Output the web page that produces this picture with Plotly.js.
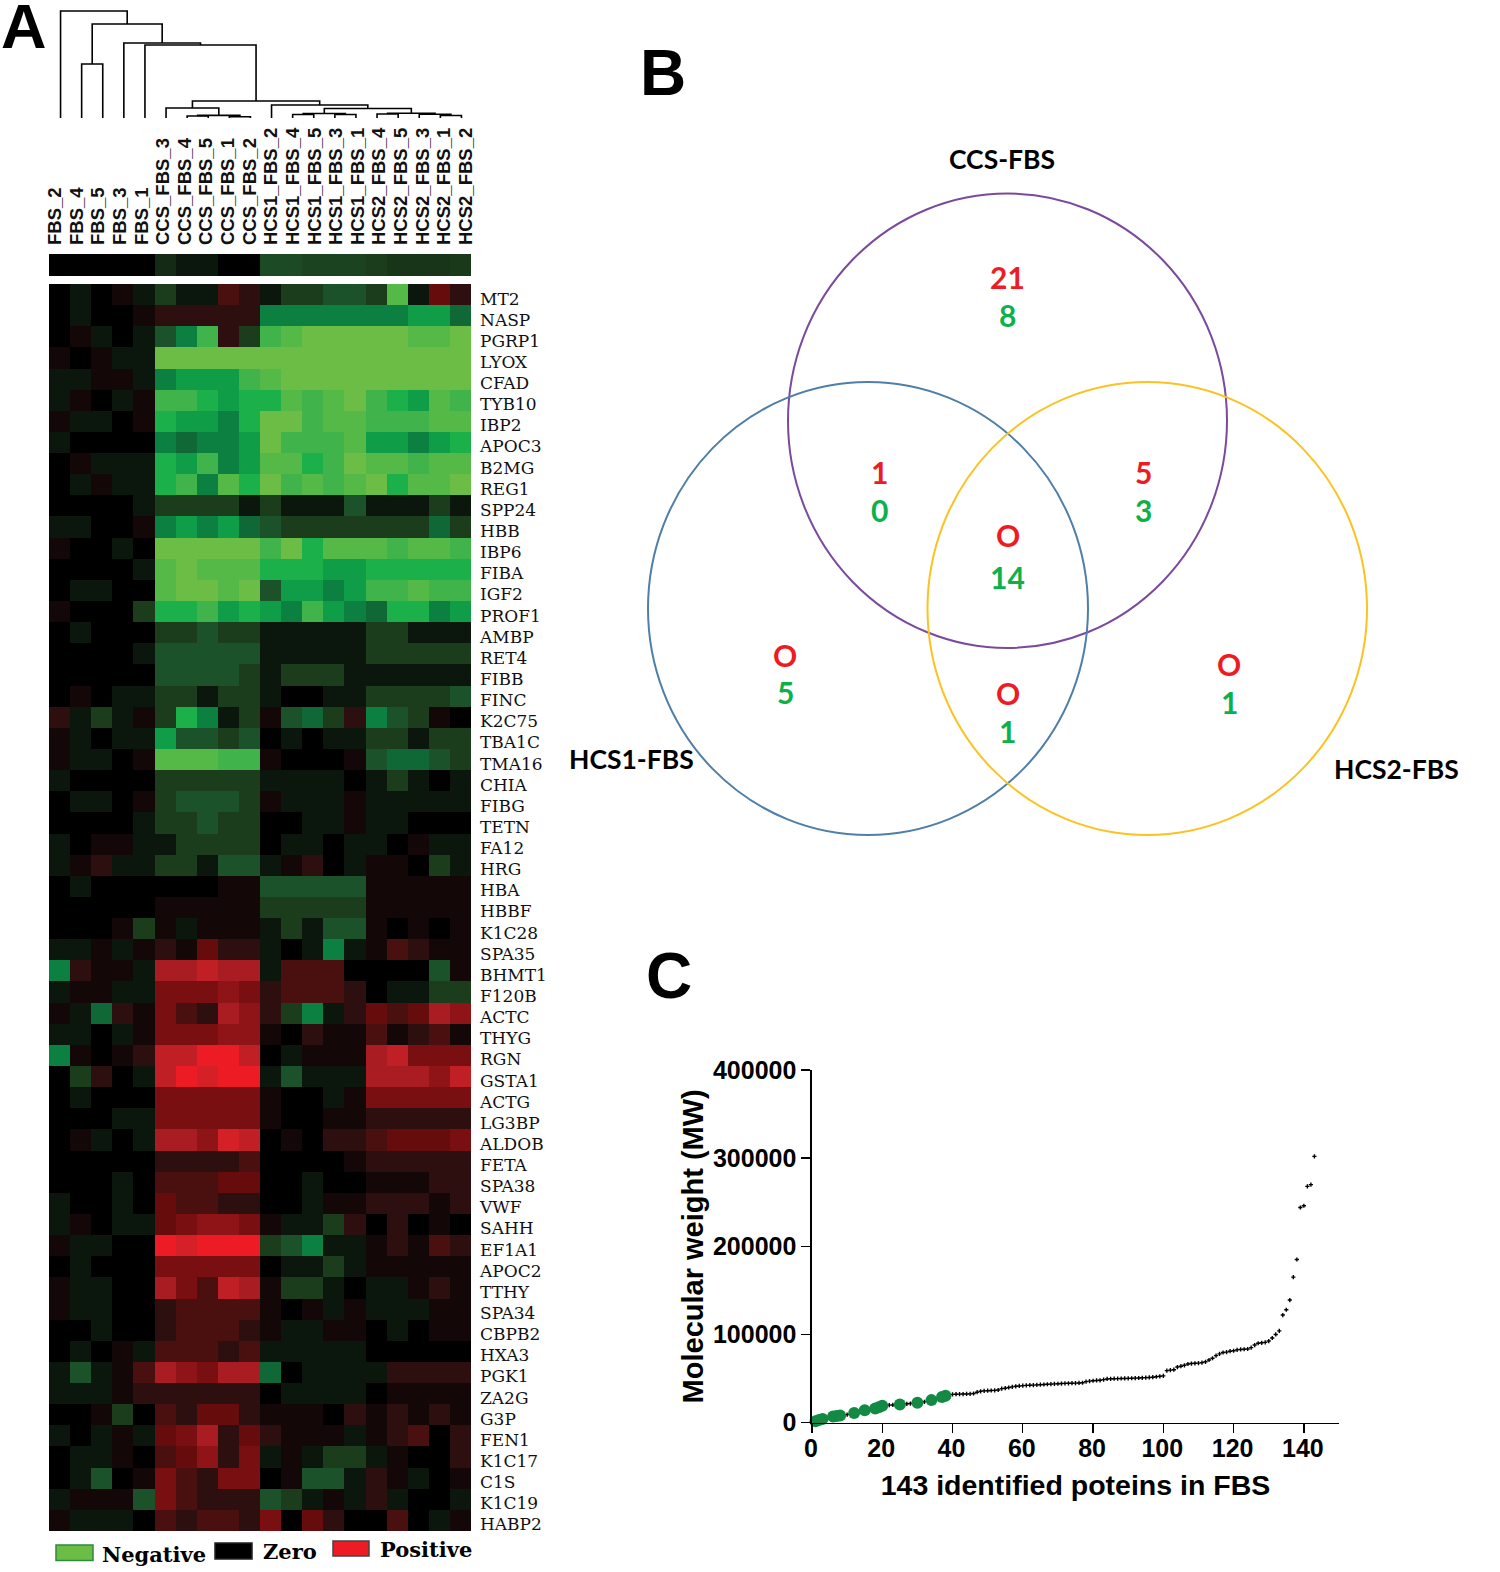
<!DOCTYPE html>
<html><head><meta charset="utf-8">
<script src="https://cdn.plot.ly/plotly-3.0.1.min.js"></script>
<style>html,body{margin:0;padding:0;background:#fff}#c{width:1500px;height:1572px}</style>
</head><body><div id="c"></div>
<script>
const colLabels=["FBS_2","FBS_4","FBS_5","FBS_3","FBS_1","CCS_FBS_3","CCS_FBS_4","CCS_FBS_5","CCS_FBS_1","CCS_FBS_2","HCS1_FBS_2","HCS1_FBS_4","HCS1_FBS_5","HCS1_FBS_3","HCS1_FBS_1","HCS2_FBS_4","HCS2_FBS_5","HCS2_FBS_3","HCS2_FBS_1","HCS2_FBS_2"];
const rowLabels=["MT2","NASP","PGRP1","LYOX","CFAD","TYB10","IBP2","APOC3","B2MG","REG1","SPP24","HBB","IBP6","FIBA","IGF2","PROF1","AMBP","RET4","FIBB","FINC","K2C75","TBA1C","TMA16","CHIA","FIBG","TETN","FA12","HRG","HBA","HBBF","K1C28","SPA35","BHMT1","F120B","ACTC","THYG","RGN","GSTA1","ACTG","LG3BP","ALDOB","FETA","SPA38","VWF","SAHH","EF1A1","APOC2","TTHY","SPA34","CBPB2","HXA3","PGK1","ZA2G","G3P","FEN1","K1C17","C1S","K1C19","HABP2"];
const heatValues=[
[0,-1,0,1,-1,-2,-1,-1,3,2,-1,-2,-2,-3,-3,-2,-9,-1,4,2],
[0,-1,0,0,1,2,2,2,2,2,-5,-5,-5,-5,-5,-5,-5,-6,-6,-4],
[0,1,-1,0,-1,-3,-5,-8,2,-2,-8,-9,-10,-10,-10,-10,-10,-9,-9,-10],
[1,0,1,-1,-1,-10,-10,-10,-10,-10,-10,-10,-10,-10,-10,-10,-10,-10,-10,-10],
[-1,-1,1,1,-1,-5,-6,-6,-6,-8,-9,-10,-10,-10,-10,-10,-10,-10,-10,-10],
[-1,1,0,-1,1,-8,-8,-7,-6,-7,-7,-9,-8,-9,-10,-8,-7,-6,-9,-8],
[1,-1,-1,0,1,-7,-6,-6,-5,-7,-10,-10,-8,-9,-9,-8,-8,-8,-9,-9],
[-1,0,0,0,0,-5,-4,-5,-5,-6,-10,-8,-8,-8,-9,-6,-6,-5,-6,-7],
[0,1,-1,-1,-1,-7,-6,-8,-5,-6,-9,-9,-7,-8,-10,-9,-9,-8,-9,-9],
[0,-1,1,-1,-1,-7,-8,-5,-9,-7,-10,-8,-9,-8,-9,-10,-7,-9,-9,-10],
[0,0,0,0,-1,-2,-2,-2,-2,-1,-2,-1,-1,-1,-3,-1,-1,-1,-2,-1],
[-1,-1,0,0,1,-5,-6,-5,-6,-4,-3,-2,-2,-2,-2,-2,-2,-2,-4,-2],
[1,0,0,-1,0,-10,-10,-10,-10,-10,-8,-10,-7,-9,-9,-9,-8,-9,-9,-8],
[0,0,0,0,-1,-9,-10,-9,-9,-9,-7,-7,-7,-6,-6,-7,-7,-7,-7,-7],
[0,-1,-1,0,0,-9,-10,-10,-9,-10,-3,-6,-6,-5,-6,-8,-8,-9,-8,-8],
[1,0,0,0,-2,-7,-7,-8,-6,-7,-6,-5,-8,-6,-5,-4,-7,-7,-5,-6],
[0,-1,0,0,0,-2,-2,-3,-2,-2,-1,-1,-1,-1,-1,-2,-2,-1,-1,-1],
[0,0,0,0,-1,-3,-3,-3,-3,-3,-1,-1,-1,-1,-1,-2,-2,-2,-2,-2],
[0,0,0,0,0,-3,-3,-3,-3,-2,-1,-2,-2,-2,-1,-1,-1,-1,-1,-1],
[0,1,0,-1,-1,-2,-2,-1,-2,-2,-1,0,0,-1,-1,-2,-2,-2,-2,-3],
[2,-1,-2,-1,1,-2,-7,-5,-1,-2,1,-3,-4,-2,2,-5,-3,-2,1,0],
[1,-1,0,-1,-1,-6,-3,-3,-2,-3,0,-1,0,-1,-1,-2,-2,-1,-2,-2],
[1,-1,-1,0,1,-9,-9,-9,-8,-8,1,0,0,0,1,-3,-4,-4,-3,-2],
[-1,0,0,0,0,-2,-2,-2,-2,-2,-1,-1,-1,-1,0,-1,-2,-1,0,-1],
[0,-1,-1,0,1,-2,-3,-3,-3,-2,1,-1,-1,-1,1,-1,-1,-1,-1,-1],
[0,0,0,0,-1,-2,-2,-3,-2,-2,0,0,-1,-1,1,-1,-1,0,0,0],
[-1,0,1,1,-1,-1,-2,-2,-2,-2,0,-1,-1,0,-1,-1,0,1,-1,-1],
[-1,1,2,-1,-1,-2,-2,-1,-3,-3,-1,1,2,0,-1,1,1,0,-2,-1],
[0,-1,0,0,0,0,0,0,1,1,-3,-3,-3,-3,-3,1,1,1,1,1],
[0,0,0,0,0,1,1,1,1,1,-2,-2,-2,-2,-2,1,1,1,1,1],
[0,0,0,1,-2,1,-1,1,1,1,-1,-2,-1,-3,-3,1,0,1,0,1],
[-1,-1,1,-1,1,2,1,4,2,2,-1,0,-1,-5,-1,1,3,2,1,1],
[-5,2,1,1,-1,7,7,8,7,7,-1,3,3,3,0,0,0,0,-3,1],
[-1,1,1,-1,-1,5,5,5,6,5,2,3,3,3,2,0,-1,-1,-2,-2],
[1,-1,-4,2,1,5,3,2,7,6,2,-2,-5,-1,2,4,3,4,7,6],
[-1,-1,0,-1,1,5,5,5,6,6,1,0,2,1,1,3,1,2,3,1],
[-5,1,0,1,2,8,8,10,10,8,0,-1,1,1,1,7,8,5,5,5],
[0,-2,2,0,-1,8,10,9,10,10,-1,-3,-1,-1,-1,7,7,7,6,8],
[0,-1,0,0,0,5,5,5,5,5,1,0,0,-1,1,5,5,5,5,5],
[0,0,0,-1,-1,5,5,5,5,5,1,0,0,1,1,2,2,2,2,2],
[0,1,-1,0,-1,7,7,6,9,8,0,1,0,2,2,3,4,4,4,5],
[0,0,0,0,0,2,2,2,2,3,0,0,0,0,1,2,2,2,2,2],
[0,0,0,-1,0,3,3,3,4,4,0,0,-1,0,0,1,1,1,2,2],
[-1,0,0,-1,0,4,3,3,2,2,0,0,-1,1,1,2,2,2,1,2],
[-1,1,0,-1,-1,4,5,6,6,5,1,-1,-1,-2,2,0,2,0,1,0],
[1,-1,-1,0,0,10,9,10,10,10,-2,-3,-5,-1,-1,1,2,1,3,2],
[0,-1,0,0,0,5,5,5,5,5,0,-1,-1,-2,-1,1,1,1,1,1],
[1,-1,-1,0,0,7,5,3,8,7,1,-2,-2,-1,0,-1,-1,1,2,1],
[1,-1,-1,0,0,2,3,3,3,3,1,0,1,-1,1,-1,-1,-1,1,1],
[0,0,-1,0,0,2,3,3,3,2,1,-1,-1,1,1,0,-1,0,1,1],
[0,-1,0,1,-1,3,3,3,2,3,-1,-1,-1,-1,-1,0,0,0,0,0],
[-1,-3,-1,1,3,7,6,5,7,7,-4,0,-1,-1,-1,-1,2,2,2,2],
[-1,-1,-1,1,2,2,2,2,2,2,0,-1,-1,-1,-1,0,1,1,1,1],
[0,0,1,-2,0,3,2,4,4,2,1,1,1,0,2,1,2,1,2,1],
[-1,0,-1,1,-1,4,5,7,2,4,2,1,1,1,-1,1,2,3,0,2],
[0,-1,-1,1,0,3,4,6,2,5,-1,1,-1,-2,-2,-1,1,0,0,2],
[0,-1,-3,0,1,5,3,2,5,5,0,1,-3,-3,-1,2,1,-1,0,1],
[-1,1,1,1,-3,5,3,2,2,2,-3,-2,-1,1,-1,2,-1,0,0,-1],
[1,-1,-1,-1,0,3,2,3,3,2,5,0,4,2,0,0,3,0,-1,1]
];
const barValues=[0,0,0,0,0,-1.5,-1,-1,0,0,-2.6,-2.6,-2.3,-2.3,-2.3,-2,-1.8,-1.8,-1.8,-1.9];
const heatColors=["#6cbd45","#55b948","#40b44a","#1bb04a","#0f9d48","#0c8040","#106836","#1b5229","#1c3d1c","#0b160c","#000000","#140707","#2e0f0f","#4a1010","#660c0c","#7a0f12","#8f1417","#a81c22","#c01f26","#d62027","#ed1c24"];
const dendroMerges=[[2,3,54],[7,8,2],[9,10,1.2],[22,23,2.6],[6,24,10],[12,13,3.5],[14,15,3.5],[26,27,4.5],[16,17,4],[19,20,2.5],[18,30,3.8],[29,31,4.8],[28,32,9.5],[11,33,13],[25,34,17],[5,35,73],[4,36,75],[21,37,94],[1,38,107]];
const mwValues=[1500,3000,4000,5000,6000,7000,7500,8000,8500,9000,9500,11000,12000,13000,14000,15000,15500,16000,17500,19000,19500,19800,20000,20200,20500,21000,21300,21600,22000,22500,23000,23500,24500,25500,26500,27500,29000,30500,31500,32000,32200,32300,32400,32500,32600,33000,34500,35500,36000,36200,36400,36600,37000,38500,39000,39800,40500,41200,41600,42000,42200,42400,42500,42800,43000,43200,43500,43700,43900,44100,44300,44500,44600,44700,44800,45000,45200,46500,47000,47500,47800,48000,48800,49500,49700,49800,49900,50000,50100,50200,50300,50500,50600,50800,51000,51200,51500,52000,52500,53000,59000,59500,60000,63000,64000,65000,66500,67000,67300,67500,68000,69000,71000,73000,76000,78000,79500,80000,81000,81500,82500,83000,83200,83500,85000,88000,90000,90500,91000,92500,96000,100000,104000,122000,128000,139000,165000,185000,244000,246000,268000,270000,302000];
const mwRanks=mwValues.map((_,i)=>i+1);
const greenRanks=[1,2,3,6,7,8,12,15,18,19,20,25,30,34,37,38];
const vennNames=["CCS-FBS","HCS1-FBS","HCS2-FBS"];
const vennUp=["21","1","5","O","O","O","O"];
const vennDown=["8","0","3","14","5","1","1"];
const legendNames=["Negative","Zero","Positive"];

const W=1500,H=1572;
const fx=(a,b)=>[a/W,b/W];
const fy=(t,b)=>[1-b/H,1-t/H];
const px=x=>x/W, py=y=>1-y/H;
const colorscale=heatColors.map((c,i)=>[i/(heatColors.length-1),c]);

const pos={},segX=[],segY=[];
for(let i=1;i<=20;i++)pos[i]={x:i,h:0};
dendroMerges.forEach((m,i)=>{
  const a=pos[m[0]],b=pos[m[1]],h=m[2];
  segX.push(a.x,a.x,b.x,b.x,null);segY.push(a.h,h,h,b.h,null);
  pos[21+i]={x:(a.x+b.x)/2,h:h};
});

const data=[
 {type:'heatmap',x:colLabels,y:rowLabels,z:heatValues,zmin:-10,zmax:10,colorscale,showscale:false,xaxis:'x',yaxis:'y',hoverinfo:'skip',xgap:0,ygap:0},
 {type:'heatmap',x:colLabels,y:['bar'],z:[barValues],zmin:-10,zmax:10,colorscale,showscale:false,xaxis:'x2',yaxis:'y2',hoverinfo:'skip'},
 {type:'scatter',mode:'lines',x:segX,y:segY,line:{color:'#000',width:1.6},xaxis:'x3',yaxis:'y3',hoverinfo:'skip',showlegend:false,connectgaps:false},
 {type:'scatter',mode:'markers',x:colLabels,y:colLabels.map(()=>0),marker:{opacity:0,size:1},xaxis:'x4',yaxis:'y4',hoverinfo:'skip',showlegend:false},
 {type:'scatter',mode:'markers',x:mwRanks,y:mwValues,marker:{symbol:'cross',size:3.5,color:'#000'},xaxis:'x5',yaxis:'y5',hoverinfo:'skip',showlegend:false,cliponaxis:false},
 {type:'scatter',mode:'markers',x:greenRanks,y:greenRanks.map(r=>mwValues[r-1]),marker:{symbol:'circle',size:12,color:'#128a44'},xaxis:'x5',yaxis:'y5',hoverinfo:'skip',showlegend:false,cliponaxis:false}
];

const hidden={showgrid:false,zeroline:false,showticklabels:false,ticks:'',showline:false};
const sansBold={family:'"Liberation Sans",Arial,sans-serif',color:'#000',weight:'bold'};
const layout={
 width:W,height:H,margin:{l:0,r:0,t:0,b:0},paper_bgcolor:'#fff',plot_bgcolor:'rgba(0,0,0,0)',showlegend:false,
 xaxis:{...hidden,domain:fx(49,471),type:'category',anchor:'y'},
 yaxis:{domain:fy(284,1531),type:'category',range:[58.5,-0.5],side:'right',anchor:'x',showgrid:false,zeroline:false,showline:false,ticks:'',
   tickmode:'array',tickvals:rowLabels,ticktext:rowLabels,ticklabelstandoff:8,ticklabelshift:-4,
   tickfont:{family:'"DejaVu Serif",serif',size:17,color:'#111'}},
 xaxis2:{...hidden,domain:fx(49,471),type:'category',anchor:'y2'},
 yaxis2:{...hidden,domain:fy(254,276),anchor:'x2'},
 xaxis3:{...hidden,domain:fx(50,472),range:[0.5,20.5],anchor:'y3'},
 yaxis3:{...hidden,domain:fy(0,118),range:[0,118],anchor:'x3'},
 xaxis4:{domain:fx(44.2,476.8),type:'category',range:[-0.5,19.5],anchor:'y4',side:'top',showgrid:false,zeroline:false,showline:false,ticks:'',tickangle:-90,
   tickmode:'array',tickvals:colLabels,ticktext:colLabels,tickfont:{family:'"Liberation Sans",Arial,sans-serif',size:18.5,color:'#111',weight:'bold'}},
 yaxis4:{...hidden,domain:fy(246,247),anchor:'x4'},
 xaxis5:{domain:fx(812,1339),range:[0,150],anchor:'y5',showgrid:false,zeroline:false,showline:true,linecolor:'#000',linewidth:1.6,
   ticks:'outside',ticklen:9,tickwidth:1.4,tickcolor:'#000',tickmode:'array',tickvals:[0,20,40,60,80,100,120,140],ticklabelstandoff:-6,ticklabelshift:-1,
   tickfont:{...sansBold,size:25},title:{text:'<b>143 identified poteins in FBS</b>',font:{family:sansBold.family,color:'#000',size:28.5},standoff:14}},
 yaxis5:{domain:fy(1070,1422.6),range:[0,400000],anchor:'x5',showgrid:false,zeroline:false,showline:true,linecolor:'#000',linewidth:1.6,
   ticks:'outside',ticklen:9,tickwidth:1.4,tickcolor:'#000',tickmode:'array',tickvals:[0,100000,200000,300000,400000],tickformat:'d',
   tickfont:{...sansBold,size:25},title:{text:'<b>Molecular weight (MW)</b>',font:{family:sansBold.family,color:'#000',size:29},standoff:1}},
 shapes:[],annotations:[]
};
const circle=(x0,x1,y0,y1,c)=>layout.shapes.push({type:'circle',xref:'paper',yref:'paper',x0:px(x0),x1:px(x1),y0:py(y1),y1:py(y0),line:{color:c,width:2},fillcolor:'rgba(0,0,0,0)'});
circle(788,1227,193.5,648,'#7b4a9c');
circle(648,1088,382,835,'#4f7fa8');
circle(927.5,1367,382,835,'#fcc221');
const txt=(t,x,y,size,color,family,extra)=>layout.annotations.push(Object.assign({text:t,xref:'paper',yref:'paper',x:px(x),y:py(y),xanchor:'center',yanchor:'middle',showarrow:false,font:{family,size,color}},extra||{}));
const lato='Lato,"Open Sans",sans-serif';
const pArial='"Liberation Sans",Arial,sans-serif';
txt('<b>A</b>',23.5,26,63,'#000',pArial);
txt('<b>B</b>',663,73,64,'#000',pArial);
txt('<b>C</b>',669,976,64,'#000',pArial);
const namePos=[[1002,159],[631,759.5],[1396,768.5]];
vennNames.forEach((n,i)=>txt('<b>'+n+'</b>',namePos[i][0],namePos[i][1],26.5,'#000',lato));
const upPos=[[1007.7,277],[879.4,471.5],[1143,471.5],[1007.7,534.5],[785,654.7],[1007.7,693],[1229,664]];
const downPos=[[1007.7,315],[879.4,510.5],[1143,510.5],[1007.7,577],[785,692],[1007.7,731],[1229,702]];
vennUp.forEach((n,i)=>txt('<b>'+n+'</b>',upPos[i][0],upPos[i][1],30,'#ed1c24',lato));
vennDown.forEach((n,i)=>txt('<b>'+n+'</b>',downPos[i][0],downPos[i][1],30,'#0db14b',lato));
const rect=(x0,x1,y0,y1,f,l)=>layout.shapes.push({type:'rect',xref:'paper',yref:'paper',x0:px(x0),x1:px(x1),y0:py(y1),y1:py(y0),fillcolor:f,line:{color:l,width:1.5}});
rect(56,93,1545,1560.5,'#6cbd45','#2e8b3d');
rect(215,252,1543,1559,'#000','#222');
rect(333,369,1541,1556,'#ed1c24','#444');
const legPos=[[153.5,1554],[289.5,1551],[425.5,1549]];
legendNames.forEach((n,i)=>txt('<b>'+n+'</b>',legPos[i][0],legPos[i][1],21,'#000','"DejaVu Serif",serif'));
Plotly.newPlot('c',data,layout,{displayModeBar:false,staticPlot:true});
</script></body></html>
